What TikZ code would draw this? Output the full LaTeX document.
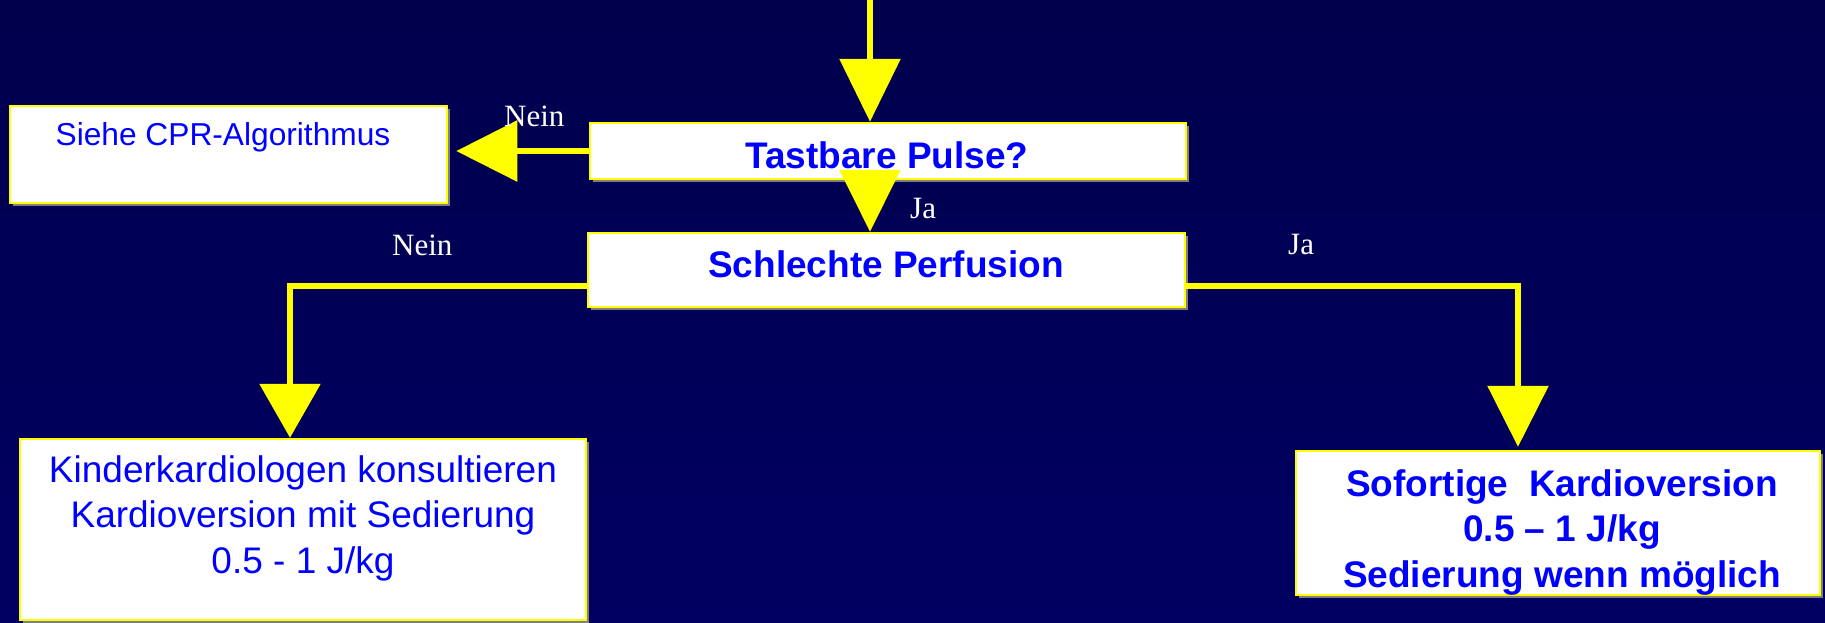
\documentclass[tikz,border=0pt]{standalone}
\usepackage{fontspec}
\setmainfont{Liberation Serif}
\newfontfamily\arialfont{Liberation Sans}
\usetikzlibrary{arrows.meta,shadows}
\definecolor{navytop}{HTML}{00004C}
\definecolor{navybot}{HTML}{000062}
\definecolor{flowyellow}{HTML}{FFFF00}
\definecolor{boxblue}{HTML}{0000FF}
\begin{document}
\begin{tikzpicture}[x=1pt,y=-1pt,
  box/.style={draw=flowyellow, line width=2.5pt, fill=white, inner sep=0pt,
    drop shadow={shadow xshift=3pt, shadow yshift=-3pt, fill=black!50, opacity=1}},
  boxtext/.style={text=boxblue, inner sep=0pt, anchor=base, align=center,
    font=\arialfont\fontsize{37}{45.5}\selectfont},
  lbl/.style={text=white, inner sep=0pt, anchor=base west,
    font=\fontsize{31}{36}\selectfont},
  flow/.style={draw=flowyellow, line width=6pt,
    -{Triangle[width=60pt,length=#1]}},
  flow/.default=62pt]

% background
\shade[top color=navytop, bottom color=navybot] (0,0) rectangle (1825,622);
\useasboundingbox (0,0) rectangle (1825,622);

% boxes
\node[box, minimum width=437pt, minimum height=97pt] (siehe) at (228.5,154.5) {};
\node[box, minimum width=596pt, minimum height=56pt] (tast) at (888,151) {};
\node[box, minimum width=597pt, minimum height=74pt] (schl) at (886.5,270) {};
\node[box, minimum width=566pt, minimum height=181pt] (kin) at (303,529.5) {};
\node[box, minimum width=524pt, minimum height=144pt] (sofort) at (1558,523) {};

% box texts (multi-line texts are anchored at the baseline of their last line)
\node[boxtext, font=\arialfont\fontsize{31.7}{38}\selectfont] (siehetxt) at (223,145) {Siehe CPR-Algorithmus};
\node[boxtext, font=\arialfont\bfseries\fontsize{37}{45.5}\selectfont] (tasttxt) at (887,168) {Tastbare Pulse?};
\node[boxtext, font=\arialfont\bfseries\fontsize{37}{45.5}\selectfont] (schltxt) at (886,277) {Schlechte Perfusion};
\node[boxtext] (kintxt) at (303,573) {Kinderkardiologen konsultieren\\Kardioversion mit Sedierung\\0.5 - 1 J/kg};
\node[boxtext, font=\arialfont\bfseries\fontsize{37}{45.5}\selectfont] (soforttxt) at (1562,587) {Sofortige\ \ Kardioversion\\0.5 – 1 J/kg\\Sedierung wenn möglich};

% connectors
\coordinate (src) at (870,0);
\draw[flow=63pt] (src) -- (src |- tast.north);
\draw[flow=62pt] ([yshift=10pt]tast.south -| src) -- (src |- schl.north);
\draw[flow=61pt, shorten >=8pt] (tast.west) -- (siehe.east |- tast.west);
\draw[flow=54pt] ([yshift=-16pt]schl.west) -| ([xshift=-13pt]kin.north);
\draw[flow=61pt, shorten >=3pt] ([yshift=-16pt]schl.east) -| ([xshift=-40pt]sofort.north);

% branch labels
\node[lbl] (neinpuls) at (504,126) {Nein};
\node[lbl] (japuls) at (910,218) {Ja};
\node[lbl] (neinperf) at (392,255) {Nein};
\node[lbl] (japerf) at (1288,254) {Ja};
\end{tikzpicture}
\end{document}
